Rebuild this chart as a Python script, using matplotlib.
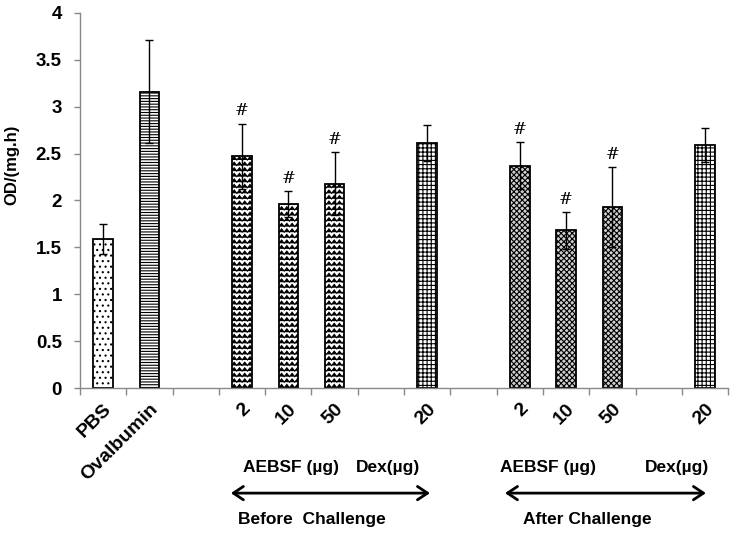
import warnings

import matplotlib

matplotlib.use("Agg")
import matplotlib.hatch as mhatch
import matplotlib.pyplot as plt
import matplotlib.transforms as mtransforms
import numpy as np
from matplotlib.path import Path

warnings.filterwarnings("ignore")

# categories along the x axis (empty strings are spacer slots)
categories = ["PBS", "Ovalbumin", "", "2", "10", "50", "", "20", "", "2", "10", "50", "", "20"]
values = [1.59, 3.16, np.nan, 2.47, 1.96, 2.18, np.nan, 2.61, np.nan, 2.37, 1.68, 1.93, np.nan, 2.59]
errors = [0.16, 0.55, np.nan, 0.35, 0.14, 0.34, np.nan, 0.19, np.nan, 0.25, 0.20, 0.43, np.nan, 0.18]
significant = [False, False, False, True, True, True, False, False, False, True, True, True, False, False]

group_labels = ["AEBSF (µg)", "Dex(µg)", "AEBSF (µg)", "Dex(µg)"]
group_label_x = [4.05, 6.15, 9.6, 12.4]
period_labels = ["Before  Challenge", "After Challenge"]
period_label_x = [4.5, 10.45]
period_spans = [(2.76, 7.06), (8.68, 13.02)]

yticks = [0, 0.5, 1, 1.5, 2, 2.5, 3, 3.5, 4]


class ZigZagHatch(mhatch.HatchPatternBase):
    """wavy horizontal lines, triggered by 'z' in the hatch string"""

    def __init__(self, hatch, density):
        self.num_rows = hatch.count("z") * density
        self.num_teeth = int(self.num_rows * 1.1)
        self.num_vertices = self.num_rows * (2 * self.num_teeth + 1)

    def set_vertices_and_codes(self, vertices, codes):
        n = 2 * self.num_teeth + 1
        xs = np.linspace(0.0, 1.0, n)
        amp = 0.3 / max(self.num_rows, 1)
        offs = np.where(np.arange(n) % 2 == 0, -amp, amp)
        for i in range(self.num_rows):
            sl = slice(i * n, (i + 1) * n)
            vertices[sl, 0] = xs
            vertices[sl, 1] = (i + 0.5) / self.num_rows + offs
            codes[sl] = Path.LINETO
            codes[i * n] = Path.MOVETO


mhatch._hatch_types.append(ZigZagHatch)

plt.rcParams["font.family"] = ["Liberation Sans", "DejaVu Sans"]
plt.rcParams["font.weight"] = "bold"
plt.rcParams["hatch.linewidth"] = 0.8

hatches = ["...", "------", "", "zzz", "zzz", "zzz", "", "++++", "", "xxxxxx", "xxxxxx", "xxxxxx", "", "++++"]
faces = ["white", "white", "white", "white", "white", "white", "white", "white",
         "white", "#d0d0d0", "#d0d0d0", "#d0d0d0", "white", "white"]

fig = plt.figure(figsize=(7.4, 5.36), dpi=100)
ax = fig.add_axes([0.108, 0.276, 0.876, 0.70])

x = np.arange(len(categories))
bars = ax.bar(x, values, width=0.42, color="white", edgecolor="black", linewidth=1.3, zorder=2)
for patch, h, fc in zip(bars.patches, hatches, faces):
    patch.set_hatch(h)
    patch.set_facecolor(fc)

ax.errorbar(x, values, yerr=errors, fmt="none", ecolor="black", elinewidth=1.0,
            capsize=3, capthick=1.0, zorder=3)

for xi, v, e, s in zip(x, values, errors, significant):
    if s:
        ax.annotate("#", (xi, v + e), xytext=(0, 3), textcoords="offset points",
                    ha="center", va="bottom", fontsize=12, fontweight="normal",
                    family="DejaVu Serif")

ax.set_xlim(-0.5, len(categories) - 0.5)
ax.set_ylim(0, 4)
ax.set_yticks(yticks)
ax.set_yticklabels([f"{t:g}" for t in yticks], fontsize=13.5, fontweight="bold")

ax.set_xticks(np.arange(-0.5, len(categories), 1.0))
ax.set_xticklabels([])
ax.set_xticks(x, minor=True)
ax.set_xticklabels(categories, minor=True, rotation=45, ha="right", va="top",
                   rotation_mode="anchor", fontsize=14, fontweight="bold")
ax.tick_params(axis="x", which="minor", length=0, pad=9)
ax.tick_params(axis="x", which="major", length=5, width=1, color="#888888", direction="out")
ax.tick_params(axis="y", length=4, width=1, color="#888888", direction="out", pad=9)

for side in ["top", "right"]:
    ax.spines[side].set_visible(False)
for side in ["left", "bottom"]:
    ax.spines[side].set_color("#888888")
    ax.spines[side].set_linewidth(1.0)

ax.set_ylabel("OD/(mg.h)", fontsize=12, fontweight="bold")
ax.yaxis.set_label_coords(-0.094, 0.595)

trans = mtransforms.blended_transform_factory(ax.transData, fig.transFigure)
for lbl, gx in zip(group_labels, group_label_x):
    ax.text(gx, 0.127, lbl, transform=trans, ha="center", va="center",
            fontsize=12.5, fontweight="bold")
for lbl, px in zip(period_labels, period_label_x):
    ax.text(px, 0.030, lbl, transform=trans, ha="center", va="center",
            fontsize=12.5, fontweight="bold")
for x0, x1 in period_spans:
    ax.annotate("", xy=(x1, 0.080), xytext=(x0, 0.080), xycoords=trans, textcoords=trans,
                arrowprops=dict(arrowstyle="<->,head_length=0.6,head_width=0.4",
                                lw=2, color="black", mutation_scale=12,
                                shrinkA=0, shrinkB=0),
                annotation_clip=False)

fig.savefig("out.png", dpi=100)
